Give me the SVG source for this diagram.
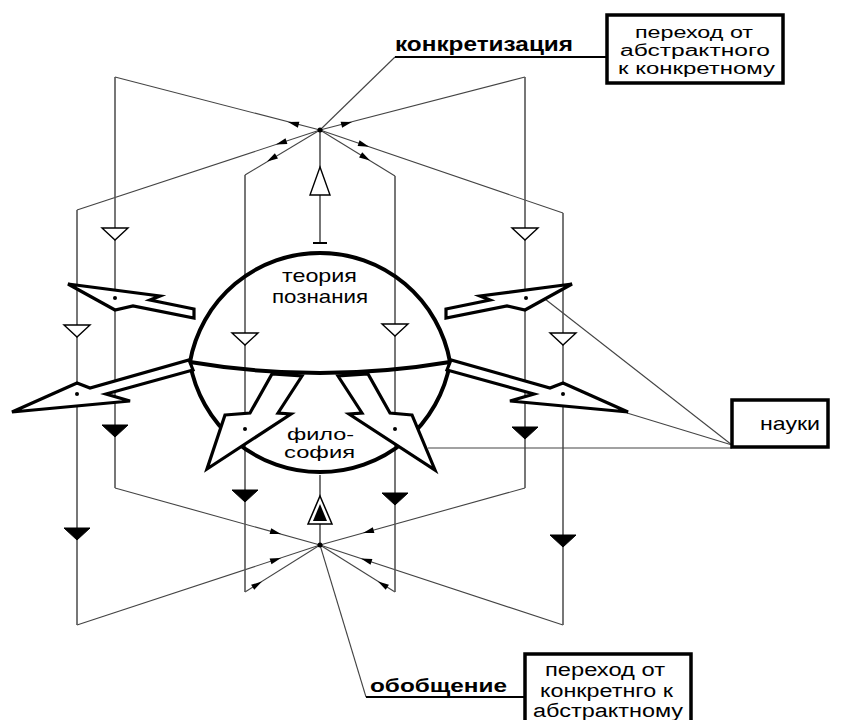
<svg xmlns="http://www.w3.org/2000/svg" xmlns:xlink="http://www.w3.org/1999/xlink" width="845" height="720" viewBox="0 0 845 720">
<defs>
<style>
.v{stroke:#555;stroke-width:1.6;fill:none}
.d{stroke:#444;stroke-width:1.1;fill:none}
.big{fill:#fff;stroke:#000;stroke-width:3.2;stroke-linejoin:miter}
.sph{fill:none;stroke:#000;stroke-width:4}
.ot{fill:#fff;stroke:#000;stroke-width:1.4}
.ft{fill:#000;stroke:#000;stroke-width:1}
.box{fill:#fff;stroke:#000;stroke-width:3.5}
.t{font-family:"Liberation Sans",Arial,sans-serif;fill:#000}
.b{font-family:"Liberation Sans",Arial,sans-serif;font-weight:bold;fill:#000}
</style>
<path id="ah" d="M0,0 L-11,-3 L-11,3 Z" fill="#000"/>
</defs>
<rect width="845" height="720" fill="#fff"/>

<g id="connectors">
<polyline class="d" points="320,130 115,77"/>
<polyline class="d" points="320,130 77,210"/>
<polyline class="d" points="320,130 245,175"/>
<polyline class="d" points="320,130 525,77"/>
<polyline class="d" points="320,130 563,213"/>
<polyline class="d" points="320,130 395,176"/>
<polyline class="d" points="320,130 395,57"/>
<polyline class="d" points="320,545 115,488"/>
<polyline class="d" points="320,545 77,625"/>
<polyline class="d" points="320,545 245,592"/>
<polyline class="d" points="320,545 525,488"/>
<polyline class="d" points="320,545 563,625"/>
<polyline class="d" points="320,545 395,592"/>
<polyline class="d" points="320,545 366,697"/>
<line class="v" x1="115" y1="77" x2="115" y2="488"/>
<line class="v" x1="77" y1="210" x2="77" y2="625"/>
<line class="v" x1="245" y1="175" x2="245" y2="592"/>
<line class="v" x1="395" y1="176" x2="395" y2="592"/>
<line class="v" x1="525" y1="77" x2="525" y2="488"/>
<line class="v" x1="563" y1="213" x2="563" y2="625"/>
<line class="v" x1="320" y1="130" x2="320" y2="243"/>
<line x1="313" y1="243" x2="327" y2="243" stroke="#000" stroke-width="2"/>
<line class="v" x1="320" y1="475" x2="320" y2="545"/>
<line x1="395" y1="57" x2="607" y2="57" stroke="#000" stroke-width="2"/>
<line x1="366" y1="697" x2="525" y2="697" stroke="#000" stroke-width="2"/>
<line class="d" x1="545" y1="299" x2="732" y2="445"/>
<line class="d" x1="627" y1="413" x2="732" y2="445"/>
<line class="d" x1="428" y1="448" x2="732" y2="448"/>
<use xlink:href="#ah" transform="translate(288,122) rotate(194.5)"/>
<use xlink:href="#ah" transform="translate(276,144.5) rotate(161.8)"/>
<use xlink:href="#ah" transform="translate(267,161.6) rotate(149)"/>
<use xlink:href="#ah" transform="translate(352,122) rotate(-14.5)"/>
<use xlink:href="#ah" transform="translate(369,146.7) rotate(18.9)"/>
<use xlink:href="#ah" transform="translate(370,160.6) rotate(31.5)"/>
<use xlink:href="#ah" transform="translate(281,534) rotate(15.5)"/>
<use xlink:href="#ah" transform="translate(281,558) rotate(-18.2)"/>
<use xlink:href="#ah" transform="translate(262,581.5) rotate(-32)"/>
<use xlink:href="#ah" transform="translate(363,533) rotate(164.5)"/>
<use xlink:href="#ah" transform="translate(361,558.5) rotate(198.2)"/>
<use xlink:href="#ah" transform="translate(378,581.5) rotate(212)"/>
<circle cx="320" cy="130" r="2.5" fill="#000"/>
<circle cx="320" cy="545" r="2.5" fill="#000"/>
</g>

<g id="sphere">
<path class="sph" d="M190,362 A132,132 0 0,1 450,362"/>
<path class="sph" d="M190,363 A132,132 0 0,0 450,363"/>
<path class="sph" d="M190,362 Q320,384 450,362"/>
</g>

<g id="arrow-ul"><polygon class="big" points="68,284 160,296 150,300 194,309 194,318 133,306 115,310"/></g>
<g id="arrow-ur"><polygon class="big" points="572,284 480,296 490,300 446,309 446,318 507,306 525,310"/></g>
<g id="arrow-ll"><polygon class="big" points="12,412 77,383 90,388 189,360 193,370 106,394 130,401"/></g>
<g id="arrow-lr"><polygon class="big" points="628,412 563,383 550,388 451,360 447,370 534,394 510,401"/></g>
<g id="arrow-bl"><polygon class="big" points="225,415 250,413 272,374 302,376 278,413 291,414 207,469"/></g>
<g id="arrow-br"><polygon class="big" points="412,415 390,413 368,374 338,376 362,413 349,414 435,470"/></g>

<g id="markers">
<polygon class="ot" points="102,228 128,228 115,240"/>
<polygon class="ot" points="64,325 90,325 77,337"/>
<polygon class="ot" points="232,333 258,333 245,345"/>
<polygon class="ot" points="382,324 408,324 395,336"/>
<polygon class="ot" points="512,228 538,228 525,240"/>
<polygon class="ot" points="550,333 576,333 563,345"/>
<polygon class="ot" points="320,167 330,195 310,195"/>
<polygon class="ft" points="102,425 128,425 115,437"/>
<polygon class="ft" points="64,528 90,528 77,540"/>
<polygon class="ft" points="232,490 258,490 245,502"/>
<polygon class="ft" points="382,493 408,493 395,505"/>
<polygon class="ft" points="512,427 538,427 525,439"/>
<polygon class="ft" points="550,535 576,535 563,547"/>
<polygon points="320,496 332,524 308,524" fill="#fff" stroke="#000" stroke-width="1.5"/>
<polygon points="320,504 327,521 313,521" fill="#000"/>
<circle cx="115" cy="298" r="2" fill="#000"/>
<circle cx="77" cy="394" r="2" fill="#000"/>
<circle cx="245" cy="429" r="2" fill="#000"/>
<circle cx="395" cy="429" r="2" fill="#000"/>
<circle cx="526" cy="298" r="2" fill="#000"/>
<circle cx="563" cy="394" r="2" fill="#000"/>
</g>

<g id="label-teoria">
<text class="t" x="282" y="282" font-size="19" textLength="75" lengthAdjust="spacingAndGlyphs">теория</text>
<text class="t" x="272" y="303" font-size="19" textLength="96" lengthAdjust="spacingAndGlyphs">познания</text>
</g>
<g id="label-filosofia">
<text class="t" x="287" y="440" font-size="16" textLength="67" lengthAdjust="spacingAndGlyphs">фило-</text>
<text class="t" x="284" y="458" font-size="16" textLength="71" lengthAdjust="spacingAndGlyphs">софия</text>
</g>

<g id="konkretizacia">
<text class="b" x="395" y="51" font-size="20" textLength="178" lengthAdjust="spacingAndGlyphs">конкретизация</text>
<rect class="box" x="607" y="15" width="176" height="68"/>
<text class="t" x="635" y="38" font-size="16" textLength="118" lengthAdjust="spacingAndGlyphs">переход от</text>
<text class="t" x="620" y="56" font-size="16" textLength="150" lengthAdjust="spacingAndGlyphs">абстрактного</text>
<text class="t" x="618" y="74" font-size="16" textLength="157" lengthAdjust="spacingAndGlyphs">к конкретному</text>
</g>

<g id="obobshenie">
<text class="b" x="370" y="692" font-size="19" textLength="137" lengthAdjust="spacingAndGlyphs">обобщение</text>
<rect class="box" x="525" y="654" width="166" height="70"/>
<text class="t" x="545" y="676" font-size="18" textLength="120" lengthAdjust="spacingAndGlyphs">переход от</text>
<text class="t" x="540" y="697" font-size="18" textLength="133" lengthAdjust="spacingAndGlyphs">конкретнго к</text>
<text class="t" x="533" y="717" font-size="18" textLength="150" lengthAdjust="spacingAndGlyphs">абстрактному</text>
</g>

<g id="nauki">
<rect class="box" x="732" y="400" width="96" height="47" stroke-width="3"/>
<text class="t" x="760" y="430" font-size="19" textLength="60" lengthAdjust="spacingAndGlyphs">науки</text>
</g>
</svg>
